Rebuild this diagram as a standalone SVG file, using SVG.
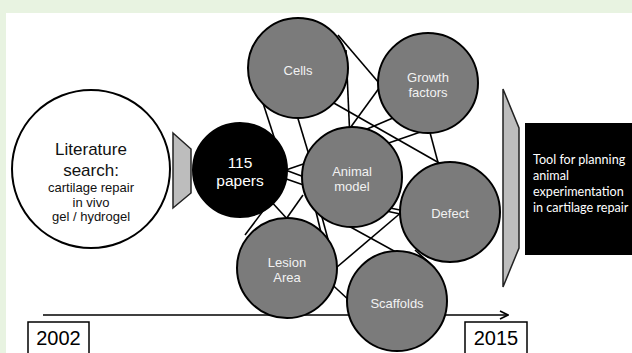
<svg xmlns="http://www.w3.org/2000/svg" width="632" height="353" viewBox="0 0 632 353">
<style>
.bg{fill:#e8f3e1}
.panel{fill:#ffffff}
.conn line{stroke:#000;stroke-width:1.6;fill:none}
.topic{fill:#7b7b7b;stroke:#000;stroke-width:2}
.tl{font-family:"Liberation Sans",Arial,sans-serif;font-size:13px;fill:#f2f2f2;text-anchor:middle}
.lit{font-family:"Liberation Sans",Arial,sans-serif;fill:#111;text-anchor:middle}
.wedge{fill:#bdbdbd;stroke:#222;stroke-width:1.5}
.year{fill:#fff;stroke:#000;stroke-width:1.5}
.yt{font-family:"Liberation Sans",Arial,sans-serif;font-size:20px;fill:#000;text-anchor:middle}
.tool{font-family:Lato,"Open Sans",sans-serif;font-size:12.6px;fill:#fff}
</style>
<defs>
<marker id="chev" viewBox="0 0 10 10" refX="9" refY="5" markerWidth="10" markerHeight="10" markerUnits="userSpaceOnUse" orient="auto">
<path d="M1,1 L9,5 L1,9" fill="none" stroke="#000" stroke-width="1.6"/>
</marker>
</defs>
<rect class="bg" x="0" y="0" width="632" height="353"/>
<rect class="panel" x="6" y="13" width="626" height="340"/>

<g id="timeline">
<line x1="43" y1="315" x2="508" y2="315" stroke="#000" stroke-width="1.6" marker-end="url(#chev)"/>
</g>

<g id="connectors" class="conn">
<line x1="262" y1="100" x2="275" y2="140"/>
<line x1="296" y1="112" x2="312" y2="165"/>
<line x1="312" y1="195" x2="324" y2="245"/>
<line x1="316" y1="195" x2="329" y2="243"/>
<line x1="346" y1="50" x2="350" y2="140"/>
<line x1="338" y1="35" x2="385" y2="90"/>
<line x1="325" y1="98" x2="448" y2="168"/>
<line x1="385" y1="80" x2="345" y2="135"/>
<line x1="400" y1="115" x2="360" y2="132"/>
<line x1="432" y1="128" x2="380" y2="146"/>
<line x1="428" y1="125" x2="440" y2="170"/>
<line x1="280" y1="172" x2="315" y2="160"/>
<line x1="280" y1="168" x2="315" y2="181"/>
<line x1="275" y1="175" x2="315" y2="189"/>
<line x1="268" y1="198" x2="290" y2="222"/>
<line x1="303" y1="195" x2="284" y2="222"/>
<line x1="275" y1="195" x2="245" y2="235"/>
<line x1="345" y1="224" x2="405" y2="257"/>
<line x1="330" y1="273" x2="410" y2="205"/>
<line x1="385" y1="207" x2="405" y2="211"/>
<line x1="386" y1="211" x2="405" y2="215"/>
<line x1="415" y1="250" x2="435" y2="268"/>
<line x1="325" y1="278" x2="352" y2="303"/>
</g>

<g id="literature">
<circle cx="91" cy="169" r="79" fill="#fff" stroke="#000" stroke-width="2"/>
<text class="lit" x="91" y="155" font-size="17">Literature</text>
<text class="lit" x="91" y="176" font-size="17">search:</text>
<text class="lit" x="91" y="192" font-size="13">cartilage repair</text>
<text class="lit" x="91" y="207" font-size="13">in vivo</text>
<text class="lit" x="91" y="221" font-size="13">gel / hydrogel</text>
</g>

<g id="wedge-left">
<polygon class="wedge" points="173,133 191,149 191,193 173,208"/>
</g>

<g id="papers">
<circle cx="240" cy="170" r="47" fill="#000" stroke="#000" stroke-width="2"/>
<text x="240" y="168" font-family="Liberation Sans,Arial,sans-serif" font-size="15.5" fill="#fff" text-anchor="middle">115</text>
<text x="240" y="186" font-family="Liberation Sans,Arial,sans-serif" font-size="15.5" fill="#fff" text-anchor="middle">papers</text>
</g>

<g id="cells">
<circle class="topic" cx="298" cy="68" r="50"/>
<text class="tl" x="298" y="74.5">Cells</text>
</g>

<g id="growth-factors">
<circle class="topic" cx="428" cy="83" r="50"/>
<text class="tl" x="428" y="81.5">Growth</text>
<text class="tl" x="428" y="96.5">factors</text>
</g>

<g id="animal-model">
<circle class="topic" cx="352" cy="177" r="50"/>
<text class="tl" x="352" y="176">Animal</text>
<text class="tl" x="352" y="191">model</text>
</g>

<g id="defect">
<circle class="topic" cx="450" cy="212" r="50"/>
<text class="tl" x="450" y="217.5">Defect</text>
</g>

<g id="lesion-area">
<circle class="topic" cx="287" cy="268" r="50"/>
<text class="tl" x="287" y="266.5">Lesion</text>
<text class="tl" x="287" y="281.5">Area</text>
</g>

<g id="scaffolds">
<circle class="topic" cx="397" cy="301" r="50"/>
<text class="tl" x="397" y="307.5">Scaffolds</text>
</g>

<g id="wedge-right">
<polygon class="wedge" points="503,89 519,128 519,248 503,287"/>
</g>

<g id="tool">
<rect x="525" y="123" width="107" height="132" fill="#000"/>
<text class="tool" x="533" y="164">Tool for planning</text>
<text class="tool" x="533" y="180">animal</text>
<text class="tool" x="533" y="196">experimentation</text>
<text class="tool" x="533" y="212">in cartilage repair</text>
</g>

<g id="year-2002">
<rect class="year" x="28" y="322" width="61" height="40"/>
<text class="yt" x="58.5" y="345">2002</text>
</g>

<g id="year-2015">
<rect class="year" x="465" y="322" width="62" height="40"/>
<text class="yt" x="496" y="345">2015</text>
</g>
</svg>
